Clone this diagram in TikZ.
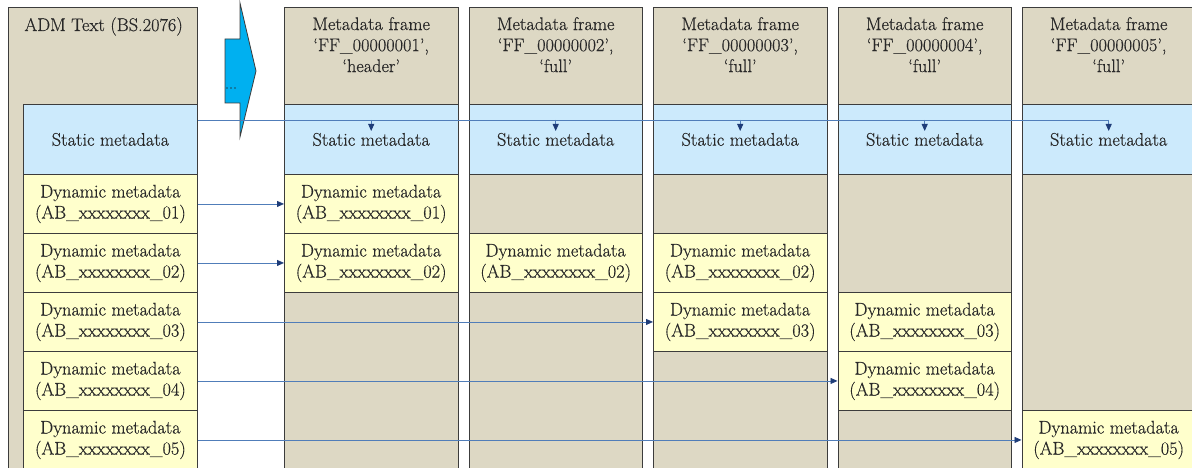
\documentclass[tikz,border=0pt]{standalone}
\usepackage{fontspec}
\setmainfont{Latin Modern Roman}[FakeBold=0.5]
\usetikzlibrary{arrows.meta}
\definecolor{tanc}{RGB}{221,216,196}
\definecolor{bluec}{RGB}{204,234,252}
\definecolor{yelc}{RGB}{255,255,204}
\definecolor{bordc}{RGB}{60,60,60}
\definecolor{txtc}{RGB}{40,40,40}
\definecolor{linec}{RGB}{80,125,185}
\definecolor{tipc}{RGB}{30,60,120}
\definecolor{arrc}{RGB}{0,176,240}
\tikzset{
  txt/.style={text=txtc, font=\fontsize{18.3}{21}\selectfont},
  box/.style={draw=bordc, line width=0.9pt, rectangle, inner sep=0pt, anchor=north west, align=center, txt},
  tanbox/.style={box, fill=tanc},
  statbox/.style={box, fill=bluec},
  dynbox/.style={box, fill=yelc},
  conn/.style={draw=linec, line width=0.8pt, -{Triangle[length=7pt,width=6pt,color=tipc]}},
}
\begin{document}
\begin{tikzpicture}[x=1pt,y=-1pt]
\useasboundingbox (0,0) rectangle (1192,468);
\clip (0,0) rectangle (1192,468);
\fill[white] (0,0) rectangle (1192,468);
% left ADM panel
\node[tanbox, minimum width=189pt, minimum height=470pt] (adm) at (8,7) {};
\node[anchor=base west, txt] (admt) at (21,31) {ADM Text (BS.2076)};
\node[statbox, minimum width=174pt, minimum height=70pt] (s0) at (23,104) {\raisebox{-2pt}{Static metadata}};
\foreach \i/\y in {1/174,2/233,3/292,4/351,5/410}{
  \node[dynbox, minimum width=174pt, minimum height=59pt] (d0\i) at (23,\y) {Dynamic metadata\\(AB\_xxxxxxxx\_0\i)};
}
% frames
\foreach \k/\x/\t in {1/284/header,2/468.5/full,3/653/full,4/837.5/full,5/1021.5/full}{
  \node[tanbox, minimum width=173.5pt, minimum height=470pt] (f\k) at (\x,7) {};
  \node[anchor=north, txt, align=center, inner sep=0pt] (h\k) at ([yshift=-10pt]f\k.north) {Metadata frame\\‘FF\_0000000\k’,\\‘\t’};
  \node[statbox, minimum width=173.5pt, minimum height=70pt] (s\k) at (\x,104) {\raisebox{-2pt}{Static metadata}};
}
% dynamic cells in frames
\node[dynbox, minimum width=173.5pt, minimum height=59pt] (e11) at (284,174) {Dynamic metadata\\(AB\_xxxxxxxx\_01)};
\node[dynbox, minimum width=173.5pt, minimum height=59pt] (e12) at (284,233) {Dynamic metadata\\(AB\_xxxxxxxx\_02)};
\node[dynbox, minimum width=173.5pt, minimum height=59pt] (e22) at (468.5,233) {Dynamic metadata\\(AB\_xxxxxxxx\_02)};
\node[dynbox, minimum width=173.5pt, minimum height=59pt] (e32) at (653,233) {Dynamic metadata\\(AB\_xxxxxxxx\_02)};
\node[dynbox, minimum width=173.5pt, minimum height=59pt] (e33) at (653,292) {Dynamic metadata\\(AB\_xxxxxxxx\_03)};
\node[dynbox, minimum width=173.5pt, minimum height=59pt] (e43) at (837.5,292) {Dynamic metadata\\(AB\_xxxxxxxx\_03)};
\node[dynbox, minimum width=173.5pt, minimum height=59pt] (e44) at (837.5,351) {Dynamic metadata\\(AB\_xxxxxxxx\_04)};
\node[dynbox, minimum width=173.5pt, minimum height=59pt] (e55) at (1021.5,410) {Dynamic metadata\\(AB\_xxxxxxxx\_05)};
% block arrow
\draw[draw=bordc, line width=0.8pt, fill=arrc] (225,39) -- (240,39) -- (240,3) -- (256,71) -- (240,137) -- (240,103) -- (225,103) -- cycle;
\node[text=txtc, font=\fontsize{16}{16}\selectfont, inner sep=0pt] (dots) at (231,88) {...};
% static distribution line
\coordinate (sl0) at (s0.east |- 0,120);
\coordinate (sl5) at (s5.center |- 0,120);
\draw[linec, line width=0.8pt] (sl0) -- (sl5);
\foreach \k in {1,...,5}{
  \coordinate (sa\k) at (s\k.center |- 0,120);
  \draw[conn] (sa\k) -- ([yshift=-11pt]sa\k);
}
% dynamic connectors
\draw[conn] (d01.east) -- (e11.west);
\draw[conn] (d02.east) -- (e12.west);
\draw[conn] (d03.east) -- (e33.west);
\draw[conn] (d04.east) -- (e44.west);
\draw[conn] (d05.east) -- (e55.west);
\end{tikzpicture}
\end{document}
